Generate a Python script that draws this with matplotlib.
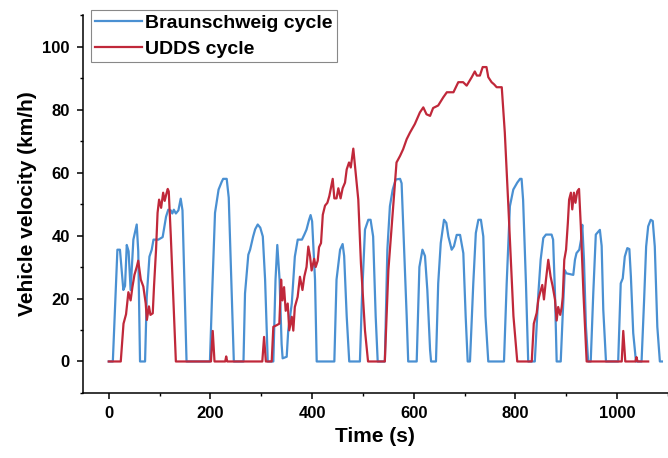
import matplotlib
matplotlib.use('Agg')
import matplotlib.pyplot as plt
from matplotlib.ticker import MultipleLocator

plt.rcParams['font.family'] = ['Liberation Sans', 'DejaVu Sans']
plt.rcParams['font.weight'] = 'bold'

# Braunschweig cycle (time s, speed km/h)
bs_t = [0, 8, 13, 17, 22, 28.7, 32, 35.4, 39, 43, 48.4, 55, 58, 61.5, 71.4, 74.7, 80, 84.5, 88,
        97.6, 106, 112.7, 117, 122, 125, 128, 132, 137, 141.5, 145, 153, 199, 203, 209, 216, 222,
        225, 232, 236, 246, 265, 268, 274.5, 278, 284, 288, 293, 298, 303, 307.5, 312.7, 323.7,
        328, 331.5, 336, 340, 342, 350, 353, 360, 366, 371.7, 380, 384.7, 389, 394, 397, 400,
        405.7, 409, 443.7, 448, 455, 460, 463, 468, 473, 494, 498, 504, 510.5, 515, 520, 525, 529,
        543, 548, 553, 558.5, 564.4, 573, 576, 581, 586, 589, 605.7, 611, 617, 622, 626.6, 632,
        634, 643.6, 648, 653, 659.4, 664, 668, 674.5, 679, 684.4, 691, 697.4, 702, 706, 710.5,
        717, 722, 727, 732, 736.7, 741, 746.5, 777.4, 782.7, 789, 795.7, 803.5, 809, 812, 815,
        820.6, 825, 838, 845, 849.5, 854.7, 860, 871, 874, 877.7, 881, 889, 893, 897, 900, 913.7,
        917, 920, 925.5, 929, 931.4, 934.7, 938.6, 943, 948, 953, 958, 966, 969.5, 972.7, 978,
        1002, 1007, 1011, 1015, 1020, 1024, 1027, 1031.6, 1037, 1048, 1053, 1057, 1061, 1066,
        1070, 1074, 1079, 1084, 1088]
bs_v = [0, 0, 20, 35.5, 35.5, 22.7, 24, 37, 35, 22.7, 38.7, 43.5, 35, 0, 0, 20.5, 33.3, 35.5, 38.7,
        38.7, 39.5, 46, 48.2, 48, 47, 48.2, 47, 48, 51.7, 48, 0, 0, 20, 47.2, 54.6, 57,
        58, 58, 52, 0, 0, 21.6, 33.9, 35.5, 39.7, 42, 43.5, 42.5, 39.7, 26, 0, 0,
        26, 37, 26, 5.5, 1, 1.5, 9.8, 18.4, 33.3, 38.7, 38.7, 40.3, 41.9, 45, 46.5, 44.5,
        26, 0, 0, 26, 35.5, 37.3, 33.5, 14.4, 0, 0, 20, 41.9, 45, 45, 39.7, 14.4, 0,
        0, 35.5, 49.3, 54.6, 57.8, 58, 56.6, 35.5, 14.4, 0, 0, 30, 35.5, 33.5, 22.7, 3.7,
        0, 0, 24.8, 37.6, 45, 44, 39.7, 35.5, 36.6, 40.2, 40.2, 34.4, 14.4, 0, 0,
        24.8, 40.8, 45, 45, 39.7, 14.4, 0, 0, 24.8, 49.3, 54.6, 56.8, 58, 58, 51.3,
        24.8, 0, 0, 21.6, 32.3, 39.2, 40.3, 40.3, 38.7, 21.6, 0, 0, 15.2, 29, 28, 27.5,
        32.3, 34.4, 35.5, 38.7, 43.4, 32.3, 11, 0, 0, 21.6, 40.3, 41.8, 36.7, 16.4, 0,
        0, 24.8, 26.4, 33.3, 36, 35.7, 27, 9, 0, 0, 19.5, 36.5, 42.9, 45,
        44.6, 36.5, 11, 0, 0]

# UDDS cycle
ud_t = [0, 23.6, 29, 34, 38.6, 43, 46.5, 50.5, 55, 58, 63, 68, 72.7, 75, 79, 82, 86.5, 89, 93, 96,
        99, 103, 107, 110, 113, 116, 118, 122, 127, 132, 201, 204.5, 208, 229, 231, 233, 302,
        305.5, 309, 320.5, 323.7, 330, 335.5, 339, 341.6, 344.8, 348, 352, 355, 360, 363, 366,
        371.5, 376, 381, 384.7, 389, 392.5, 396, 399, 404, 407, 411, 413.6, 417.5, 421, 425.4,
        430, 433.8, 437, 440.5, 443.7, 448, 451.6, 456, 460, 464.7, 468, 472.6, 476, 481, 485.7,
        490.8, 496, 504, 510, 543, 550, 556, 560, 566, 573, 579, 586, 592.5, 602, 612, 618.7,
        625, 632, 638, 648, 658, 665, 678, 687.5, 697, 704, 714, 720, 724, 730, 735.5, 743,
        746.5, 753, 758, 763, 773, 779, 786, 796, 803.5, 832, 836, 841.7, 845, 848, 852.7, 856,
        860, 864.5, 869, 873, 877.7, 881, 884, 888, 891, 893, 896, 899.5, 903, 905.5, 909,
        911.7, 915, 918, 921.5, 925, 928.5, 933.7, 940, 1009, 1012, 1016, 1036, 1038, 1040, 1061]
ud_v = [0, 0, 12, 15, 22, 19.4, 23.6, 27.5, 30, 32, 26, 23.8, 18.4, 13.2, 17.5, 14.8, 15.3, 23.8, 35.5, 47.2,
        51.4, 48.8, 53.6, 51, 53, 54.8, 54, 40, 20, 0, 0, 9.7, 0, 0, 1.6, 0, 0,
        7.8, 0, 0, 11, 11.5, 12, 26, 19.4, 23.6, 16.1, 18.4, 9.9, 14.2, 9.8, 17.3,
        20.5, 26.9, 22.7, 27, 30, 36.5, 33.3, 28.9, 32.6, 30, 32, 36.3, 37.6, 46.6, 49.5,
        50.4, 52.5, 55.2, 58, 51.8, 51.8, 55, 51.8, 55, 56.8, 61, 63.2, 61.6, 67.6, 60,
        51.4, 31.2, 9.8, 0, 0, 29, 42, 50.4, 63.2, 65.3, 67.4, 70.6, 72.7, 75.4, 79.1, 80.7,
        78.5, 78, 80.5, 81.3, 83.9, 85.5, 85.5, 88.7, 88.7, 87.6, 90.3, 92.1, 90.8, 90.8, 93.5, 93.5,
        90.3, 88.7, 88, 87.1, 87.1, 72.7, 49.3, 14.4, 0, 0, 12, 15.4, 19.7, 21.6, 24.3, 19.7,
        26, 32.3, 27, 24, 19.7, 13, 17.3, 14.8, 17.3, 20.5, 32.3, 35.5, 44, 51.4, 53.6,
        48.3, 53.6, 50.4, 54, 54.8, 43, 21.6, 0, 0, 9.7, 0, 0, 1.4, 0, 0]

fig = plt.figure(figsize=(6.68, 4.58), dpi=100)
ax = fig.add_axes([0.124, 0.142, 0.876, 0.825])

ax.plot(bs_t, bs_v, color='#4a90d2', lw=1.6, label='Braunschweig cycle')
ax.plot(ud_t, ud_v, color='#c0283a', lw=1.6, label='UDDS cycle')

ax.set_xlim(-51, 1100)
ax.set_ylim(-10, 110)
ax.xaxis.set_minor_locator(MultipleLocator(100))
ax.yaxis.set_major_locator(MultipleLocator(20))
ax.yaxis.set_minor_locator(MultipleLocator(10))
ax.set_xticks(range(0, 1001, 200))

for s in ['top', 'right']:
    ax.spines[s].set_visible(False)
for s in ['left', 'bottom']:
    ax.spines[s].set_linewidth(1.1)
ax.tick_params(which='major', direction='out', length=4.5, width=1.1, labelsize=12, pad=5)
ax.tick_params(which='minor', direction='out', length=2.5, width=1.0)

ax.set_xlabel('Time (s)', fontsize=15, fontweight='bold')
ax.set_ylabel('Vehicle velocity (km/h)', fontsize=15, fontweight='bold')

leg = ax.legend(loc='upper left', bbox_to_anchor=(91 / 668, 1 - 10 / 458),
                bbox_transform=fig.transFigure, borderaxespad=0, fancybox=False,
                fontsize=14, handlelength=2.4, borderpad=0.2, labelspacing=0.45,
                handletextpad=0.2, framealpha=1)
leg.get_frame().set_edgecolor('#888888')
leg.get_frame().set_linewidth(0.8)

fig.savefig('out.png', dpi=100)
